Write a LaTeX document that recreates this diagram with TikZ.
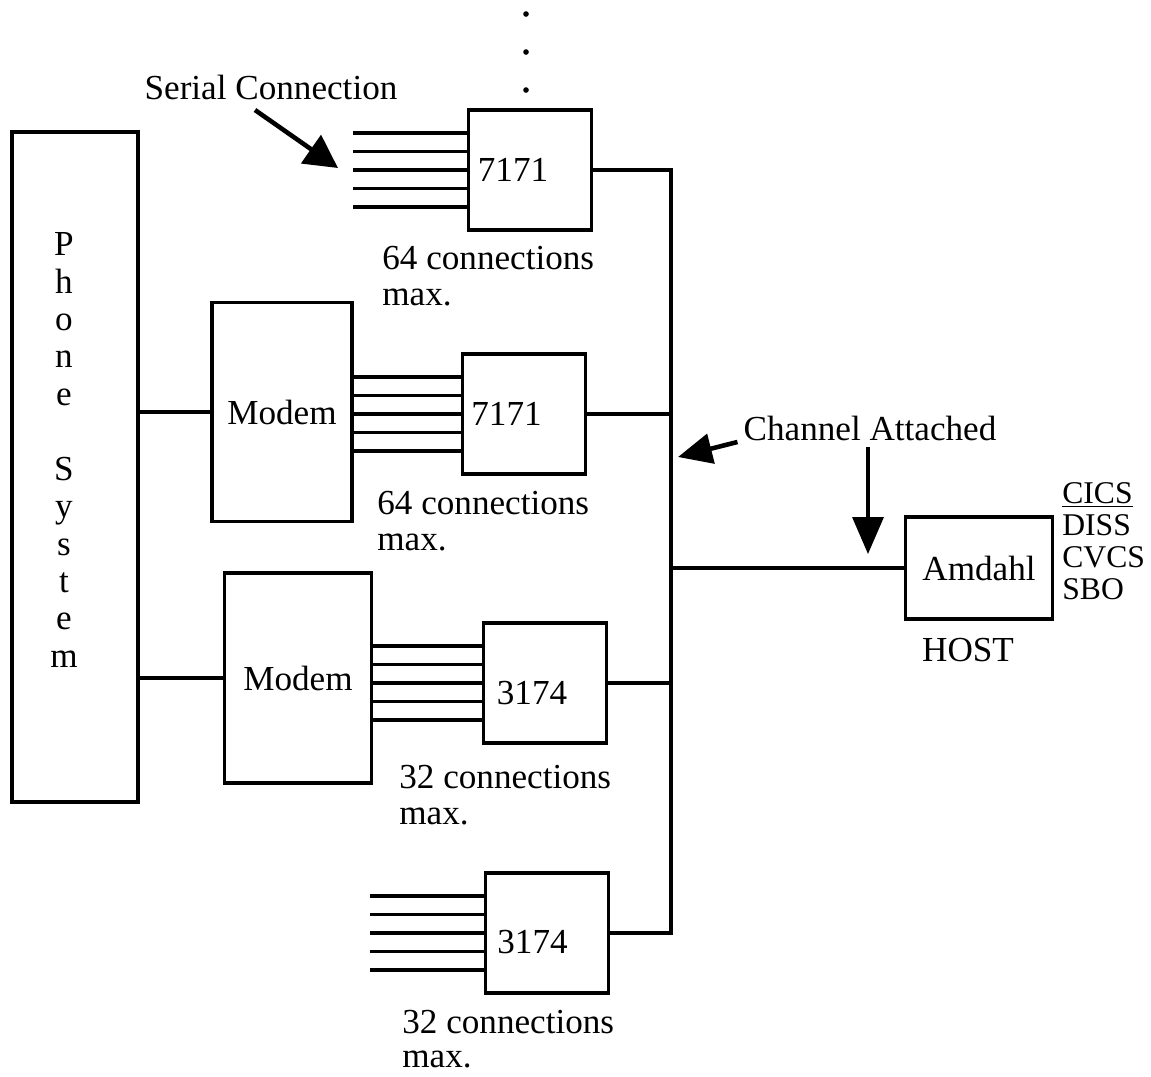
\documentclass[tikz,border=0pt]{standalone}
\usepackage{fontspec}
\setmainfont{Liberation Serif}
\usetikzlibrary{arrows.meta}

\begin{document}
\begin{tikzpicture}[
  x=0.02cm, y=-0.02cm,
  font=\fontsize{20}{19.5}\selectfont,
  box/.style={draw, line width=2.1pt, inner sep=0pt},
  unit/.style={box, minimum width=2.46cm, minimum height=2.4cm},
  note/.style={align=left, anchor=north west, inner sep=0pt},
  link/.style={line width=2pt},
  serline/.style={line width=2.2pt},
  callout/.style={line width=2.6pt, -{Triangle[length=0.66cm,width=0.68cm]}}
]
\useasboundingbox (0,0) rectangle (1151,1076);

% boxes
\node[box, minimum width=2.52cm, minimum height=13.4cm,
      label={[align=center, xshift=-0.22cm, yshift=0.34cm,
              font=\fontsize{20}{21.3}\selectfont]center:{P\\h\\o\\n\\e\\[21.3pt]S\\y\\s\\t\\e\\m}}]
      (phone) at (75,467) {};
\node[box, minimum width=2.8cm, minimum height=4.38cm] (m1) at (282,412) {Modem};
\node[box, minimum width=2.94cm, minimum height=4.2cm] (m2) at (298,678) {Modem};
\node[unit, label={[xshift=-0.34cm]center:7171}] (u1) at (530,170) {};
\node[unit, label={[xshift=-0.35cm]center:7171}] (u2) at (524,414) {};
\node[unit, label={[xshift=-0.26cm, yshift=-0.2cm]center:3174}] (u3) at (545,683) {};
\node[unit, label={[xshift=-0.29cm, yshift=-0.18cm]center:3174}] (u4) at (547,933) {};
\node[box, minimum width=2.94cm, minimum height=2.04cm] (host) at (979,568) {Amdahl};

% texts
\node (serial) at (271,87) {Serial Connection};
\node (chan) at (870,428) {Channel Attached};
\node (hostlbl) at (968,650) {HOST};
\node[note, font=\fontsize{18}{18.2}\selectfont] (apps) at (1062,482) {\underline{CICS}\\DISS\\CVCS\\SBO};
\node[note, font=\fontsize{20}{20.5}\selectfont] (c1) at (382,246) {64 connections\\max.};
\node[note, font=\fontsize{20}{20.5}\selectfont] (c2) at (377,491) {64 connections\\max.};
\node[note, font=\fontsize{20}{20.5}\selectfont] (c3) at (399,765) {32 connections\\max.};
\node[note, font=\fontsize{20}{19}\selectfont] (c4) at (402,1010) {32 connections\\max.};

% more controllers above
\foreach \y in {14,52,90}
  \fill (526,\y) circle (1.6pt);

% serial lines
\foreach \dy in {-0.74,-0.37,0,0.37,0.74}{
  \draw[serline] ([yshift=\dy cm]u1.west) -- ++(-114,0);
  \draw[serline] ([yshift=\dy cm]u2.west) -- ([yshift=\dy cm]u2.west -| m1.east);
  \draw[serline] ([yshift=\dy cm]u3.west) -- ([yshift=\dy cm]u3.west -| m2.east);
  \draw[serline] ([yshift=\dy cm]u4.west) -- ++(-114,0);
}

\draw[link] (m1.west) -- (m1.west -| phone.east);
\draw[link] (m2.west) -- (m2.west -| phone.east);

% channel bus
\coordinate (busx) at (671,0);
\draw[link] (u1.east) -| (busx |- u4.east) -- (u4.east);
\draw[link] (u2.east) -- (u2.east -| busx);
\draw[link] (u3.east) -- (u3.east -| busx);
\draw[link] (host.west) -- (host.west -| busx);

% callouts
\coordinate (sctail) at (255,110);
\coordinate (sctip) at (338,168);
\coordinate (chtip) at (678,457);
\coordinate (hsttip) at (868,554);
\draw[callout] (sctail) -- (sctip);
\draw[callout, -{Triangle[length=0.68cm,width=0.6cm]}] ([yshift=-0.28cm]chan.west) -- (chtip);
\draw[callout, line width=2pt, -{Triangle[length=0.74cm,width=0.62cm]}] (chan.south -| hsttip) -- (hsttip);

\end{tikzpicture}
\end{document}
